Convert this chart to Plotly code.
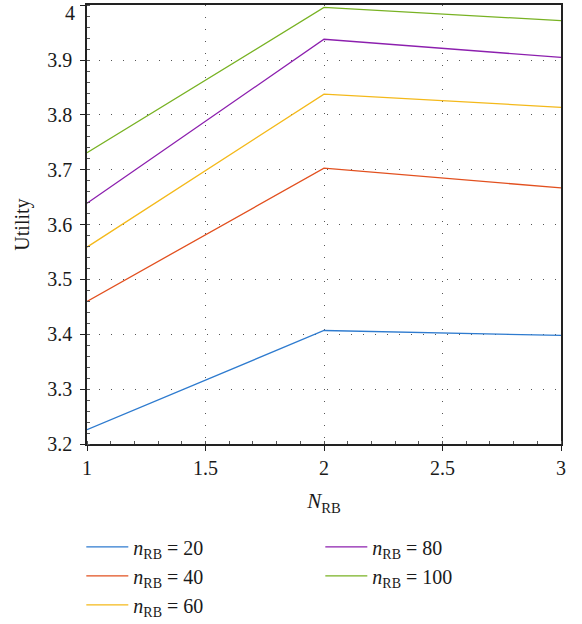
import plotly.graph_objects as go

x_vals = [1, 2, 3]
series_names = ["20", "40", "60", "80", "100"]
u_20 = [3.226, 3.407, 3.398]
u_40 = [3.460, 3.703, 3.667]
u_60 = [3.559, 3.838, 3.814]
u_80 = [3.639, 3.938, 3.905]
u_100 = [3.731, 3.996, 3.972]
series_values = [u_20, u_40, u_60, u_80, u_100]
colors = ["#2e7bcf", "#e2501f", "#f4b91a", "#8c1fae", "#78b223"]
legend_ranks = [1, 3, 5, 2, 4]

x_tickvals = [1, 1.5, 2, 2.5, 3]
x_ticktext = ["1", "1.5", "2", "2.5", "3"]
y_tickvals = [3.2, 3.3, 3.4, 3.5, 3.6, 3.7, 3.8, 3.9, 4.0]
y_ticktext = ["3.2", "3.3", "3.4", "3.5", "3.6", "3.7", "3.8", "3.9", "4"]

FONT = "Liberation Serif"

fig = go.Figure()
for name, vals, col, rk in zip(series_names, series_values, colors, legend_ranks):
    fig.add_trace(go.Scatter(
        x=x_vals, y=vals, mode="lines",
        line=dict(color=col, width=1.3),
        name=f"<i>n</i><sub>RB</sub> = {name}",
        legendrank=rk,
    ))

fig.update_layout(
    width=582, height=624,
    margin=dict(l=87, r=21, t=5, b=180, autoexpand=False),
    plot_bgcolor="white", paper_bgcolor="white",
    font=dict(family=FONT, size=20, color="#1a1a1a"),
    showlegend=True,
    legend=dict(
        orientation="h", x=-0.012, y=-0.19, xanchor="left", yanchor="top",
        entrywidth=182, entrywidthmode="pixels",
        font=dict(family=FONT, size=20),
        itemwidth=42, tracegroupgap=0,
        bgcolor="rgba(0,0,0,0)",
    ),
)

# top tick label drawn as an annotation nudged down so it stays inside the page
fig.add_annotation(
    text=y_ticktext[-1], x=0, xref="paper", y=y_tickvals[-1], yref="y",
    xanchor="right", yanchor="top", xshift=-11, yshift=4,
    showarrow=False, borderpad=0, font=dict(family=FONT, size=20, color="#1a1a1a"),
)

fig.update_xaxes(
    range=[1, 3], tickvals=x_tickvals, ticktext=x_ticktext,
    showline=True, linecolor="#222", linewidth=1.5, mirror=True,
    ticks="outside", ticklen=5, tickcolor="#222",
    minor=dict(ticks="inside", ticklen=3, dtick=0.1, tickcolor="#555", showgrid=False),
    showgrid=True, gridcolor="#555", griddash="1px,11px", gridwidth=1,
    zeroline=False, automargin=False,
    title=dict(text="<i>N</i><sub>RB</sub>", font=dict(family=FONT, size=21), standoff=16),
    tickfont=dict(family=FONT, size=20),
)
fig.update_yaxes(
    range=[3.2, 4.0005], tickvals=y_tickvals, ticktext=y_ticktext[:-1] + [""],
    showline=True, linecolor="#222", linewidth=1.5, mirror=True,
    ticks="outside", ticklen=5, tickcolor="#222", ticklabelstandoff=4,
    minor=dict(ticks="inside", ticklen=3, dtick=0.02, tickcolor="#555", showgrid=False),
    showgrid=True, gridcolor="#555", griddash="1px,11px", gridwidth=1,
    zeroline=False, automargin=False,
    title=dict(text="Utility", font=dict(family=FONT, size=20), standoff=12),
    tickfont=dict(family=FONT, size=20),
)

fig.write_html("out.html", config={"displayModeBar": False},
               post_script="document.body.style.margin='0';")
